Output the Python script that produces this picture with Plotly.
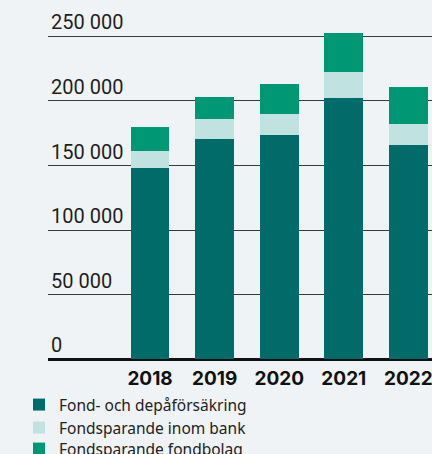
import plotly.graph_objects as go

years = ["2018", "2019", "2020", "2021", "2022"]
fond_depa = [148000, 170500, 173500, 202000, 166000]
inom_bank = [13000, 15500, 16500, 20500, 16000]
fondbolag = [19000, 17000, 23000, 30000, 29000]
series_names = ["Fond- och depåförsäkring", "Fondsparande inom bank", "Fondsparande fondbolag"]
y_ticks = [0, 50000, 100000, 150000, 200000, 250000]
y_tick_text = ["0", "50 000", "100 000", "150 000", "200 000", "250 000"]

colors = ["#006b68", "#c0e2e0", "#009874"]
bg = "#eff3f6"
xpos = list(range(len(years)))

W, H = 432, 454
legend_ids = ["legend", "legend2", "legend3"]
legend_tops = [388, 411, 432]

fig = go.Figure()
for name, vals, c, lid in zip(series_names, [fond_depa, inom_bank, fondbolag], colors, legend_ids):
    fig.add_trace(go.Bar(x=xpos, y=vals, name=name, legend=lid,
                         marker=dict(color=c, line=dict(width=0)), width=0.6))

legend_common = dict(orientation="v", xanchor="left", yanchor="top",
                     font=dict(family="Noto Sans, sans-serif", size=15.5, color="#222"),
                     bgcolor="rgba(0,0,0,0)", itemwidth=30)
fig.update_layout(
    barmode="stack",
    width=W, height=H,
    paper_bgcolor=bg, plot_bgcolor=bg,
    margin=dict(l=0, r=0, t=0, b=0, autoexpand=False),
    font=dict(family="Inter, Roboto, sans-serif", color="#1a1a1a"),
    showlegend=True,
)
for lid, top in zip(legend_ids, legend_tops):
    fig.update_layout({lid: dict(x=19 / W, y=1 - top / H, **legend_common)})

fig.update_xaxes(domain=[48 / W, 1], range=[-1.58, 4.365], tickvals=xpos,
                 ticktext=["<b>%s</b>" % y for y in years],
                 tickfont=dict(family="Inter, sans-serif", size=19, color="#111"),
                 showgrid=False, zeroline=False,
                 showline=False, ticks="", ticklabelstandoff=6, automargin=False,
                 ticklabeloverflow="allow")
fig.update_yaxes(domain=[1 - 359.3 / H, 1 - 10 / H], range=[0, 270400], tickvals=y_ticks,
                 ticktext=y_tick_text, automargin=False,
                 ticklabelposition="inside top",
                 tickfont=dict(family="Roboto, sans-serif", size=20, color="#1e1e1e"),
                 ticklabelstandoff=0, ticklabeloverflow="allow",
                 showgrid=True, gridcolor="#3a3a3a", gridwidth=1.3,
                 zeroline=True, zerolinecolor="#111", zerolinewidth=2.5,
                 showline=False, ticks="")

fig.write_html("out.html", config={"displayModeBar": False},
               post_script="document.body.style.margin='0';document.body.style.background='%s';" % bg)
